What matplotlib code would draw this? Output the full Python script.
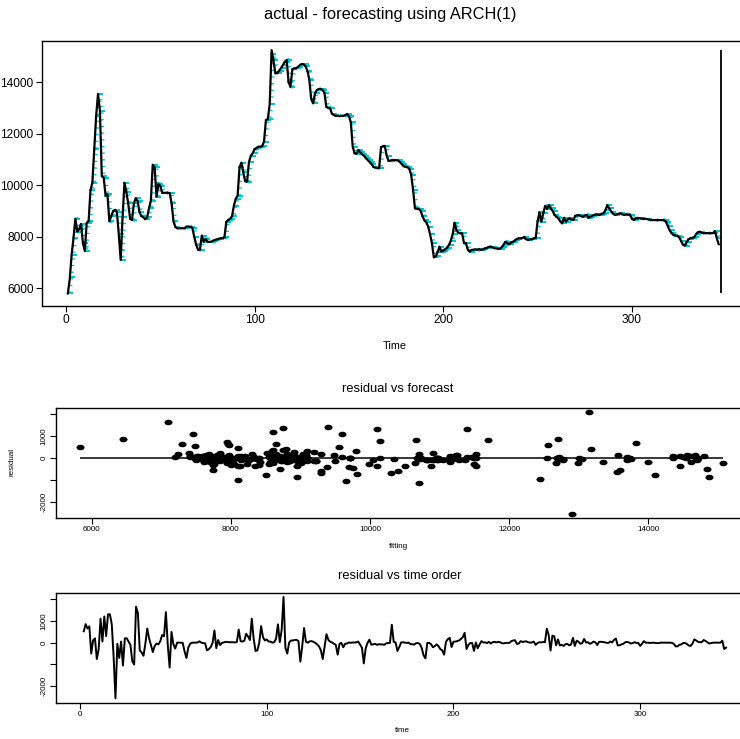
import numpy as np
import matplotlib.pyplot as plt
from matplotlib.path import Path
from matplotlib.transforms import Affine2D

plt.rcParams['font.family'] = ['Liberation Sans', 'DejaVu Sans']

# actual series, t = 1..346
actual = [
    5800, 6350, 7300, 7950, 8700, 8200, 8300, 8500, 7750, 7450,
    8550, 8600, 9800, 10100, 11400, 12700, 13550, 12900, 10350, 10300,
    9600, 9650, 8600, 8800, 9000, 9050, 8950, 8100, 7100, 8750,
    10100, 9750, 9300, 8700, 8650, 9300, 9500, 9380, 8950, 8800,
    8760, 8680, 8750, 9100, 9400, 10800, 10700, 9560, 10050, 9980,
    9710, 9710, 9710, 9710, 9700, 9300, 8600, 8380, 8330, 8330,
    8330, 8330, 8340, 8400, 8400, 8380, 8350, 8000, 7700, 7500,
    7490, 8050, 7800, 7920, 7810, 7800, 7810, 7850, 7880, 7900,
    7920, 7940, 7950, 7980, 8580, 8650, 8700, 8790, 9200, 9480,
    9600, 10700, 10880, 10500, 10150, 10140, 10900, 11150, 11250, 11400,
    11450, 11500, 11500, 11520, 11700, 12540, 12560, 13150, 15250, 14850,
    14350, 14350, 14450, 14550, 14670, 14800, 14870, 14000, 13830, 14500,
    14540, 14540, 14600, 14670, 14710, 14700, 14620, 14450, 14100, 13350,
    13180, 13570, 13700, 13740, 13750, 13700, 13600, 13050, 13000, 12990,
    12780, 12730, 12690, 12700, 12690, 12700, 12700, 12720, 12770, 12680,
    12450, 11500, 11240, 11230, 11370, 11280, 11200, 11150, 11050, 10980,
    10900, 10820, 10720, 10690, 10670, 10660, 11480, 11520, 11530, 11150,
    10950, 10960, 10980, 10980, 10970, 10970, 10900, 10830, 10740, 10720,
    10700, 10640, 10400, 9820, 9100, 9090, 9080, 9010, 8800, 8640,
    8560, 8400, 8100, 7750, 7200, 7240, 7400, 7620, 7420, 7460,
    7510, 7580, 7680, 7850, 8100, 8550, 8260, 8160, 8140, 8130,
    7750, 7760, 7500, 7420, 7490, 7500, 7510, 7490, 7530, 7490,
    7510, 7550, 7560, 7600, 7620, 7590, 7560, 7550, 7540, 7530,
    7600, 7700, 7810, 7750, 7710, 7780, 7810, 7860, 7920, 7940,
    7940, 7950, 8000, 7900, 7880, 7900, 7910, 7940, 7960, 8600,
    8950, 8590, 8910, 9200, 9080, 9230, 9100, 9000, 8850, 8780,
    8720, 8600, 8520, 8740, 8590, 8680, 8720, 8670, 8650, 8820,
    8830, 8850, 8800, 8780, 8830, 8850, 8740, 8780, 8820, 8850,
    8870, 8860, 8850, 8900, 8910, 9040, 9230, 9100, 8980, 8900,
    8850, 8870, 8900, 8910, 8870, 8850, 8870, 8860, 8850, 8700,
    8650, 8720, 8720, 8720, 8710, 8700, 8700, 8690, 8670, 8650,
    8650, 8650, 8650, 8650, 8650, 8650, 8640, 8590, 8420, 8250,
    8150, 8070, 8050, 8040, 7980, 7850, 7700, 7650, 7800, 7900,
    7940, 7960, 7980, 8100, 8180, 8200, 8160, 8140, 8140, 8140,
    8140, 8140, 8140, 8230, 7940, 7710,
]

# one-step forecast (cyan marks), t = 2..346
forecast = [
    5830, 6450, 7300, 7950, 8700, 8200, 8300, 8500, 7750, 7450,
    8550, 8600, 9800, 10100, 11400, 12700, 13550, 12900, 10350, 10300,
    9600, 9650, 8600, 8800, 9000, 9050, 8950, 8100, 7100, 8750,
    10100, 9750, 9300, 8700, 8650, 9300, 9500, 9380, 8950, 8800,
    8760, 8680, 8750, 9100, 9400, 10800, 10700, 9560, 10050, 9980,
    9710, 9710, 9710, 9710, 9700, 9300, 8600, 8380, 8330, 8330,
    8330, 8330, 8340, 8400, 8400, 8380, 8350, 8000, 7700, 7500,
    7490, 8050, 7800, 7920, 7810, 7800, 7810, 7850, 7880, 7900,
    7920, 7940, 7950, 7980, 8580, 8650, 8700, 8790, 9200, 9480,
    9600, 10700, 10880, 10500, 10150, 10140, 10900, 11150, 11250, 11400,
    11450, 11500, 11500, 11520, 11700, 12540, 12560, 13150, 15080, 14850,
    14350, 14350, 14450, 14550, 14670, 14800, 14870, 14000, 13830, 14500,
    14540, 14540, 14600, 14670, 14710, 14700, 14620, 14450, 14100, 13350,
    13180, 13570, 13700, 13740, 13750, 13700, 13600, 13050, 13000, 12990,
    12780, 12730, 12690, 12700, 12690, 12700, 12700, 12720, 12770, 12680,
    12450, 11500, 11240, 11230, 11370, 11280, 11200, 11150, 11050, 10980,
    10900, 10820, 10720, 10690, 10670, 10660, 11480, 11520, 11530, 11150,
    10950, 10960, 10980, 10980, 10970, 10970, 10900, 10830, 10740, 10720,
    10700, 10640, 10400, 9820, 9100, 9090, 9080, 9010, 8800, 8640,
    8560, 8400, 8100, 7750, 7200, 7240, 7400, 7620, 7420, 7460,
    7510, 7580, 7680, 7850, 8100, 8550, 8260, 8160, 8140, 8130,
    7750, 7760, 7500, 7420, 7490, 7500, 7510, 7490, 7530, 7490,
    7510, 7550, 7560, 7600, 7620, 7590, 7560, 7550, 7540, 7530,
    7600, 7700, 7810, 7750, 7710, 7780, 7810, 7860, 7920, 7940,
    7940, 7950, 8000, 7900, 7880, 7900, 7910, 7940, 7960, 8600,
    8950, 8590, 8910, 9200, 9080, 9230, 9100, 9000, 8850, 8780,
    8720, 8600, 8520, 8740, 8590, 8680, 8720, 8670, 8650, 8820,
    8830, 8850, 8800, 8780, 8830, 8850, 8740, 8780, 8820, 8850,
    8870, 8860, 8850, 8900, 8910, 9040, 9230, 9100, 8980, 8900,
    8850, 8870, 8900, 8910, 8870, 8850, 8870, 8860, 8850, 8700,
    8650, 8720, 8720, 8720, 8710, 8700, 8700, 8690, 8670, 8650,
    8650, 8650, 8650, 8650, 8650, 8650, 8640, 8590, 8420, 8250,
    8150, 8070, 8050, 8040, 7980, 7850, 7700, 7650, 7800, 7900,
    7940, 7960, 7980, 8100, 8180, 8200, 8160, 8140, 8140, 8140,
    8140, 8140, 8140, 8230, 7940,
]

top_xticks = [0, 100, 200, 300]
top_yticks = [6000, 8000, 10000, 12000, 14000]
fit_xticks = [6000, 8000, 10000, 12000, 14000]
res_yticks = [-2000, -1000, 0, 1000, 2000]
res_ylabels = ['-2000', '', '0', '1000', '']

time = np.arange(1, len(actual) + 1)
time_fc = time[1:]
actual = np.array(actual)
forecast = np.array(forecast)
residual = actual[1:] - forecast

cyan = '#00c4cc'

W, H = 740, 739
def box(l, t, r, b):
    # pixel box -> figure fraction
    return [l / W, 1 - b / H, (r - l) / W, (b - t) / H]

def style(ax, size):
    for s in ax.spines.values():
        s.set_linewidth(1.0)
    ax.tick_params(labelsize=size, length=4, width=0.8, pad=2)

fig = plt.figure(figsize=(7.4, 7.39), dpi=100)

# top: actual vs forecast
ax1 = fig.add_axes(box(42, 41, 747, 306))
# forecast drawn as a thick dotted trace -> little dashes on steep moves
ax1.plot(time_fc, forecast, color=cyan, lw=2.6, ls=(0, (0.35, 1.5)),
         dash_capstyle='butt')
ax1.plot(time_fc, forecast, ls='none', marker='_', ms=5, mew=1.4, color=cyan)
ax1.plot(time, actual, color='black', lw=1.6)
ax1.vlines(len(actual) + 1, actual.min(), actual.max(), color='black', lw=1.3)
ax1.set_xlim(-12.7, 361)
ax1.set_ylim(5313, 15604)
ax1.set_xticks(top_xticks)
ax1.set_yticks(top_yticks)
style(ax1, 8.6)

# middle: residual vs forecast
ell = Path.unit_circle().transformed(Affine2D().scale(1.0, 0.62))
ax2 = fig.add_axes(box(56, 408, 761, 518))
ax2.plot(forecast, residual, ls='none', marker=ell, ms=4.8, color='black')
ax2.hlines(0, forecast.min(), forecast.max(), color='black', lw=1.1)
ax2.set_xlim(5487, 15620)
ax2.set_ylim(-2727, 2273)
ax2.set_xticks(fit_xticks)
ax2.set_yticks(res_yticks)
ax2.set_yticklabels(res_ylabels, rotation=90, va='center')
style(ax2, 5.8)

# bottom: residual vs time
ax3 = fig.add_axes(box(56, 593, 752, 703))
ax3.plot(time_fc, residual, color='black', lw=1.4)
ax3.set_xlim(-12.86, 359.9)
ax3.set_ylim(-2764, 2275)
ax3.set_xticks(top_xticks)
ax3.set_yticks(res_yticks)
ax3.set_yticklabels(res_ylabels, rotation=90, va='center')
style(ax3, 5.8)

def label(x, y, s, size, rot=0):
    fig.text(x / W, 1 - y / H, s, fontsize=size, ha='center', va='center', rotation=rot)

label(390, 14, 'actual - forecasting using ARCH(1)', 11.8)
label(395, 346, 'Time', 7.8)
label(398, 389, 'residual vs forecast', 9.3)
label(398, 547, 'fitting', 5.8)
label(12, 462, 'residual', 5.8, rot=90)
label(400, 576, 'residual vs time order', 9.3)
label(402, 731, 'time', 5.8)

fig.savefig('out.png', dpi=100)
